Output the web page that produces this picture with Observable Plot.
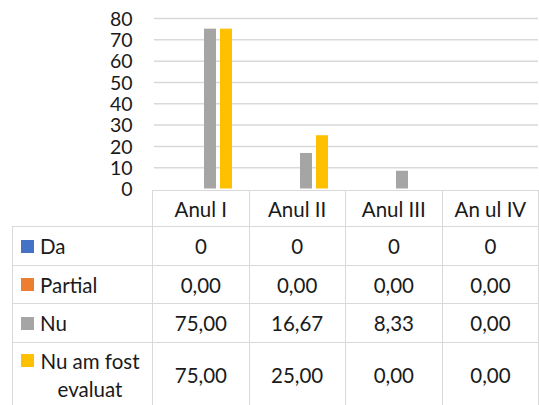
<!DOCTYPE html>
<html>
<head>
<meta charset="utf-8">
<script src="https://cdn.jsdelivr.net/npm/d3@7"></script>
<script src="https://cdn.jsdelivr.net/npm/@observablehq/plot@0.6"></script>
<style>
  html, body { margin: 0; padding: 0; background: #fff; overflow: hidden; }
  #wrap { width: 539px; font-family: Lato, sans-serif; font-size: 20.5px; color: #1a1a1a; }
  table { border-collapse: collapse; table-layout: fixed; margin-left: 12px; }
  td { border: 1.5px solid #d9d9d9; padding: 0; text-align: center; vertical-align: middle; line-height: 28px; }
  td.blank { border-top: none; border-left: none; }
  .leg { display: flex; align-items: flex-start; padding-left: 8px; text-align: left; }
  .key { width: 13px; height: 13px; margin-top: 7.5px; margin-right: 6px; flex: none; }
  .lab { display: inline-block; max-width: 100px; text-align: center; }
</style>
</head>
<body>
<div id="wrap"></div>
<script>
const years = ["Anul I", "Anul II", "Anul III", "An ul IV"];
const series = ["Da", "Partial", "Nu", "Nu am fost evaluat"];
const colors = ["#4472c4", "#ed7d31", "#a5a5a5", "#ffc000"];
const da = [0, 0, 0, 0];
const partial = [0, 0, 0, 0];
const nu = [75, 16.67, 8.33, 0];
const nuEvaluat = [75, 25, 0, 0];
const decimals = [0, 2, 2, 2];
const yTicks = [0, 10, 20, 30, 40, 50, 60, 70, 80];

const valuesBySeries = [da, partial, nu, nuEvaluat];
const data = series.flatMap((s, i) => years.map((y, j) => ({series: s, year: y, value: valuesBySeries[i][j]})));

const ro = d3.formatLocale({decimal: ",", thousands: ".", grouping: [3], currency: ["", ""]});

const wrap = document.getElementById("wrap");

const chart = Plot.plot({
  width: 539,
  height: 190,
  marginLeft: 153,
  marginRight: 0,
  marginTop: 18,
  marginBottom: 1.5,
  style: "font: 19.5px Lato, sans-serif; color: #1a1a1a; overflow: visible; background: transparent;",
  fx: {domain: years, padding: 0, axis: null, label: null},
  x: {domain: series, paddingInner: 0.235, paddingOuter: 0.96, axis: null},
  y: {domain: [0, 80], axis: null},
  color: {domain: series, range: colors},
  marks: [
    Plot.gridY(yTicks.filter(t => t > 0), {stroke: "#d9d9d9", strokeOpacity: 1, strokeWidth: 1.5}),
    Plot.barY(data, {fx: "year", x: "series", y: "value", fill: "series"}),
    Plot.axisY({ticks: yTicks, tickSize: 0, tickPadding: 22, label: null, fill: "#1a1a1a", dy: 1})
  ]
});
chart.style.display = "block";
wrap.appendChild(chart);

// data table
const table = d3.select(wrap).append("table");
const colWidths = [141, 97, 97, 98, 97];
table.append("colgroup").selectAll("col").data(colWidths).join("col").style("width", d => d + "px");
const rowHeights = [36, 39, 38, 39, 64];
const head = table.append("tr").style("height", rowHeights[0] + "px");
head.append("td").attr("class", "blank");
years.forEach(y => head.append("td").text(y));
series.forEach((s, i) => {
  const tr = table.append("tr").style("height", rowHeights[i + 1] + "px");
  const leg = tr.append("td").append("div").attr("class", "leg");
  leg.append("span").attr("class", "key").style("background", colors[i]);
  leg.append("span").attr("class", "lab").text(s);
  const f = ro.format("." + decimals[i] + "f");
  valuesBySeries[i].forEach(v => tr.append("td").text(f(v)));
});
</script>
</body>
</html>
